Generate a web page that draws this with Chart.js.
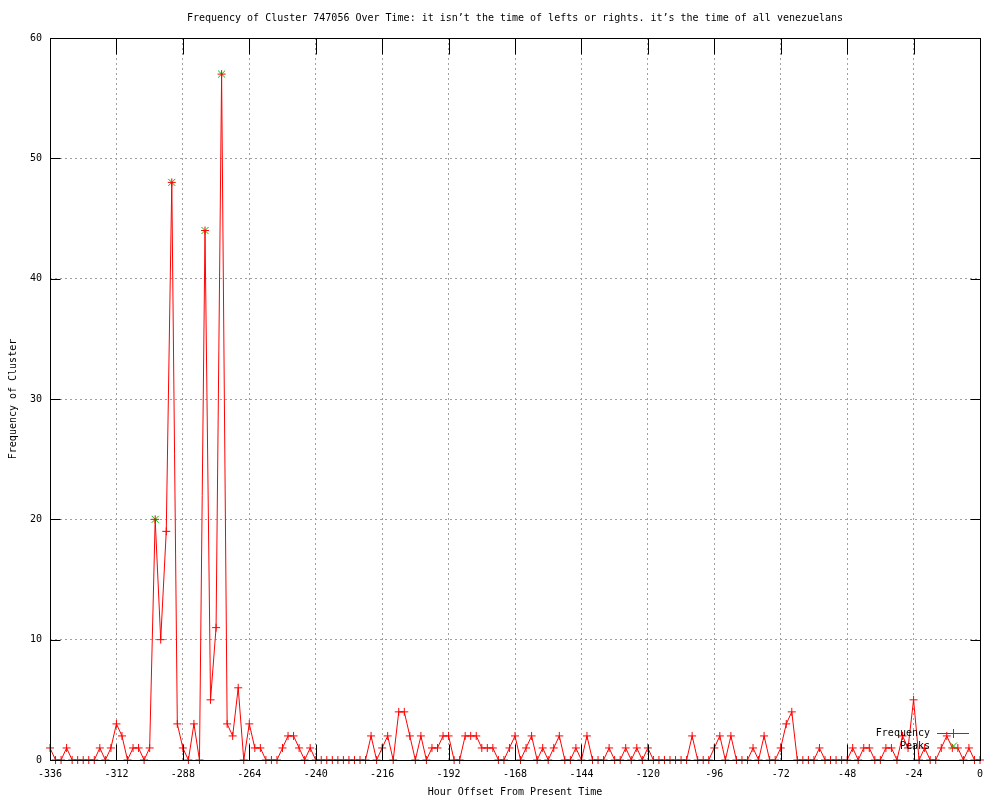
<!DOCTYPE html>
<html>
<head>
<meta charset="utf-8">
<script src="https://cdn.jsdelivr.net/npm/chart.js@4/dist/chart.umd.min.js"></script>
<style>
  body { margin: 0; background: #fff; }
  #wrap { width: 1000px; height: 800px; }
</style>
</head>
<body>
<div id="wrap"><canvas id="freqChart" width="1000" height="800"></canvas></div>
<script>
// hour offsets, one sample every 2 hours
let hours = [
  -336, -334, -332, -330, -328, -326, -324, -322, -320, -318, -316, -314,
  -312, -310, -308, -306, -304, -302, -300, -298, -296, -294, -292, -290,
  -288, -286, -284, -282, -280, -278, -276, -274, -272, -270, -268, -266,
  -264, -262, -260, -258, -256, -254, -252, -250, -248, -246, -244, -242,
  -240, -238, -236, -234, -232, -230, -228, -226, -224, -222, -220, -218,
  -216, -214, -212, -210, -208, -206, -204, -202, -200, -198, -196, -194,
  -192, -190, -188, -186, -184, -182, -180, -178, -176, -174, -172, -170,
  -168, -166, -164, -162, -160, -158, -156, -154, -152, -150, -148, -146,
  -144, -142, -140, -138, -136, -134, -132, -130, -128, -126, -124, -122,
  -120, -118, -116, -114, -112, -110, -108, -106, -104, -102, -100, -98,
  -96, -94, -92, -90, -88, -86, -84, -82, -80, -78, -76, -74,
  -72, -70, -68, -66, -64, -62, -60, -58, -56, -54, -52, -50,
  -48, -46, -44, -42, -40, -38, -36, -34, -32, -30, -28, -26,
  -24, -22, -20, -18, -16, -14, -12, -10, -8, -6, -4, -2,
  0
];
let frequency = [
  1, 0, 0, 1, 0, 0, 0, 0, 0, 1, 0, 1,
  3, 2, 0, 1, 1, 0, 1, 20, 10, 19, 48, 3,
  1, 0, 3, 0, 44, 5, 11, 57, 3, 2, 6, 0,
  3, 1, 1, 0, 0, 0, 1, 2, 2, 1, 0, 1,
  0, 0, 0, 0, 0, 0, 0, 0, 0, 0, 2, 0,
  1, 2, 0, 4, 4, 2, 0, 2, 0, 1, 1, 2,
  2, 0, 0, 2, 2, 2, 1, 1, 1, 0, 0, 1,
  2, 0, 1, 2, 0, 1, 0, 1, 2, 0, 0, 1,
  0, 2, 0, 0, 0, 1, 0, 0, 1, 0, 1, 0,
  1, 0, 0, 0, 0, 0, 0, 0, 2, 0, 0, 0,
  1, 2, 0, 2, 0, 0, 0, 1, 0, 2, 0, 0,
  1, 3, 4, 0, 0, 0, 0, 1, 0, 0, 0, 0,
  0, 1, 0, 1, 1, 0, 0, 1, 1, 0, 2, 1,
  5, 0, 1, 0, 0, 1, 2, 1, 1, 0, 1, 0,
  0
];
let peakHours = [-298, -292, -280, -274];
let peakValues = [20, 48, 44, 57];

let xTicks = [-336, -312, -288, -264, -240, -216, -192, -168, -144, -120, -96, -72, -48, -24, 0];
let yTicks = [0, 10, 20, 30, 40, 50, 60];

const FONT = '"DejaVu Sans Mono", "Liberation Mono", monospace';
const RED = '#ff0000';
const GREEN = '#00c000';

let freqPoints = [];
for (let i = 0; i < hours.length; i++) {
  freqPoints.push({x: hours[i], y: frequency[i]});
}
let peakPoints = [];
for (let i = 0; i < peakHours.length; i++) {
  peakPoints.push({x: peakHours[i], y: peakValues[i]});
}

// border box, inward tick marks, title and the little legend, gnuplot style
const gnuplotDecor = {
  id: 'gnuplotDecor',
  afterDatasetsDraw(chart) {
    const ctx = chart.ctx;
    const a = chart.chartArea;
    const xs = chart.scales.x;
    const ys = chart.scales.y;
    const L = Math.round(a.left) + 0.5, R = Math.round(a.right) + 0.5;
    const T = Math.round(a.top) + 0.5, B = Math.round(a.bottom) + 0.5;
    ctx.save();
    ctx.strokeStyle = '#000';
    ctx.lineWidth = 1;
    ctx.beginPath();
    for (const v of xTicks) {
      const px = Math.round(xs.getPixelForValue(v)) + 0.5;
      ctx.moveTo(px, B); ctx.lineTo(px, B - 16);
      ctx.moveTo(px, T); ctx.lineTo(px, T + 16);
    }
    for (const v of yTicks) {
      const py = Math.round(ys.getPixelForValue(v)) + 0.5;
      ctx.moveTo(L, py); ctx.lineTo(L + 10, py);
      ctx.moveTo(R, py); ctx.lineTo(R - 10, py);
    }
    ctx.stroke();
    ctx.strokeRect(L, T, R - L, B - T);

    ctx.fillStyle = '#000';
    ctx.font = '10px ' + FONT;
    ctx.textBaseline = 'middle';
    ctx.textAlign = 'center';
    ctx.fillText('Frequency of Cluster 747056 Over Time: it isn\u2019t the time of lefts or rights. it\u2019s the time of all venezuelans', (a.left + a.right) / 2, 18);

    // legend
    ctx.textAlign = 'right';
    ctx.fillText('Frequency', 930, 733);
    ctx.fillText('Peaks', 930, 746);
    ctx.strokeStyle = RED;
    ctx.beginPath();
    ctx.moveTo(937, 733.5); ctx.lineTo(969, 733.5);
    ctx.moveTo(953.5, 729); ctx.lineTo(953.5, 738);
    ctx.stroke();
    ctx.strokeStyle = GREEN;
    ctx.beginPath();
    ctx.moveTo(950, 742.5); ctx.lineTo(957, 749.5);
    ctx.moveTo(957, 742.5); ctx.lineTo(950, 749.5);
    ctx.stroke();
    ctx.restore();
  }
};

let freqChart = new Chart(document.getElementById('freqChart').getContext('2d'), {
  type: 'line',
  data: {
    datasets: [{
      label: 'Frequency',
      data: freqPoints,
      borderColor: RED,
      borderWidth: 1,
      tension: 0,
      fill: false,
      clip: false,
      pointStyle: 'cross',
      pointRadius: 4,
      pointBorderColor: RED,
      pointBorderWidth: 1
    },
    {
      label: 'Peaks',
      data: peakPoints,
      showLine: false,
      clip: false,
      pointStyle: 'crossRot',
      pointRadius: 5,
      pointBorderColor: GREEN,
      pointBorderWidth: 1
    }]
  },
  options: {
    responsive: false,
    animation: false,
    events: [],
    layout: { padding: { left: 0, right: 20, top: 38, bottom: 0 } },
    plugins: {
      legend: { display: false },
      tooltip: { enabled: false },
      title: { display: false }
    },
    scales: {
      x: {
        type: 'linear',
        min: -336,
        max: 0,
        afterFit: scale => { scale.height = 40; },
        afterBuildTicks: scale => { scale.ticks = xTicks.map(v => ({value: v})); },
        grid: {
          drawTicks: false,
          color: c => (c.tick && (c.tick.value === -336 || c.tick.value === 0)) ? 'rgba(0,0,0,0)' : '#a0a0a0',
          lineWidth: 1
        },
        border: { display: false, dash: [2, 3] },
        ticks: {
          padding: 8,
          color: '#000',
          font: { family: FONT, size: 10 },
          maxRotation: 0,
          autoSkip: false,
          callback: v => String(v)
        },
        title: {
          display: true,
          text: 'Hour Offset From Present Time',
          color: '#000',
          font: { family: FONT, size: 10 },
          padding: { top: 0, bottom: 2 }
        }
      },
      y: {
        min: 0,
        max: 60,
        afterFit: scale => { scale.width = 50; },
        afterBuildTicks: scale => { scale.ticks = yTicks.map(v => ({value: v})); },
        grid: {
          drawTicks: false,
          color: c => (c.tick && (c.tick.value === 0 || c.tick.value === 60)) ? 'rgba(0,0,0,0)' : '#a0a0a0',
          lineWidth: 1
        },
        border: { display: false, dash: [2, 3] },
        ticks: {
          padding: 8,
          color: '#000',
          font: { family: FONT, size: 10 },
          callback: v => String(v)
        },
        title: {
          display: true,
          text: 'Frequency of Cluster',
          color: '#000',
          font: { family: FONT, size: 10 },
          padding: { top: 7, bottom: 0 }
        }
      }
    }
  },
  plugins: [gnuplotDecor]
});
</script>
</body>
</html>
